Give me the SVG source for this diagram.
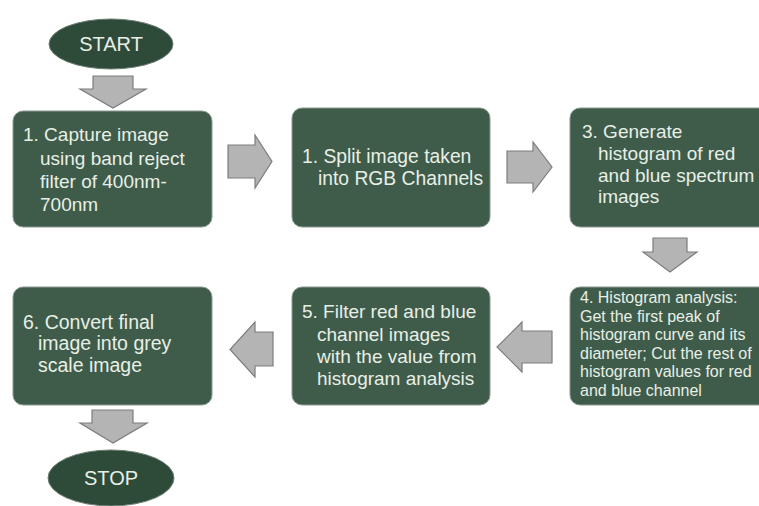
<svg xmlns="http://www.w3.org/2000/svg" width="759" height="506" viewBox="0 0 759 506">
  <style>
    .box { fill: #3f5c4b; stroke: #8a9a90; stroke-width: 1; }
    .term { fill: #2e4a39; stroke: #6d7f73; stroke-width: 1; }
    .arrow { fill: #b4b4b4; stroke: #7c7c7c; stroke-width: 1.2; stroke-linejoin: miter; }
    text { font-family: "Liberation Sans", Arial, sans-serif; fill: #e8efe6; }
    .t { font-size: 19px; }
    .s { font-size: 16px; }
    .c { font-size: 20px; text-anchor: middle; }
  </style>
  <rect width="759" height="506" fill="#ffffff"/>

  <g id="connectors">
    <path class="arrow" d="M93,76 H133 V89 H146 L113,108 L80,89 H93 Z"/>
    <path class="arrow" d="M228,145 H255 V135 L272,161.5 L255,188 V178 H228 Z"/>
    <path class="arrow" d="M507,151 H533 V142 L552,167 L533,192 V183 H507 Z"/>
    <path class="arrow" d="M653,238 H687 V252 H697 L670,272 L643,252 H653 Z"/>
    <path class="arrow" d="M552,331 H522 V322 L497,347 L522,372 V363 H552 Z"/>
    <path class="arrow" d="M273,332 H255 V322 L230,349.5 L255,377 V366 H273 Z"/>
    <path class="arrow" d="M92,410 H133 V423 H147 L113,443 L80,423 H92 Z"/>
  </g>

  <g id="start">
    <ellipse class="term" cx="111" cy="44" rx="62" ry="25"/>
    <text class="c" x="111" y="51">START</text>
  </g>

  <g id="step1">
    <rect class="box" x="13" y="111" width="199" height="116" rx="10"/>
    <text class="t" x="23" y="141">1. Capture image</text>
    <text class="t" x="40" y="164.5">using band reject</text>
    <text class="t" x="40" y="188">filter of 400nm-</text>
    <text class="t" x="40" y="211">700nm</text>
  </g>

  <g id="step2">
    <rect class="box" x="292" y="108" width="198" height="119" rx="10"/>
    <text class="t" x="302" y="163" style="font-size:19.3px">1. Split image taken</text>
    <text class="t" x="318" y="185" style="font-size:19.3px">into RGB Channels</text>
  </g>

  <g id="step3">
    <rect class="box" x="570" y="108" width="200" height="119" rx="10"/>
    <text class="t" x="582" y="138">3. Generate</text>
    <text class="t" x="598" y="160">histogram of red</text>
    <text class="t" x="598" y="181.5">and blue spectrum</text>
    <text class="t" x="598" y="203">images</text>
  </g>

  <g id="step4">
    <rect class="box" x="570" y="287" width="200" height="118" rx="10"/>
    <text class="s" x="580" y="303">4. Histogram analysis:</text>
    <text class="s" x="580" y="321.5">Get the first peak of</text>
    <text class="s" x="580" y="340">histogram curve and its</text>
    <text class="s" x="580" y="358.5">diameter; Cut the rest of</text>
    <text class="s" x="580" y="377">histogram values for red</text>
    <text class="s" x="580" y="395.5">and blue channel</text>
  </g>

  <g id="step5">
    <rect class="box" x="292" y="287" width="198" height="118" rx="10"/>
    <text class="t" x="302" y="318">5. Filter red and blue</text>
    <text class="t" x="317" y="340.5">channel images</text>
    <text class="t" x="317" y="363">with the value from</text>
    <text class="t" x="317" y="385">histogram analysis</text>
  </g>

  <g id="step6">
    <rect class="box" x="13" y="287" width="199" height="118" rx="10"/>
    <text class="t" x="23" y="328.5" style="font-size:19.5px">6. Convert final</text>
    <text class="t" x="38" y="350" style="font-size:19.5px">image into grey</text>
    <text class="t" x="38" y="371.5" style="font-size:19.5px">scale image</text>
  </g>

  <g id="stop">
    <ellipse class="term" cx="111" cy="478" rx="63" ry="28"/>
    <text class="c" x="111" y="485">STOP</text>
  </g>
</svg>
